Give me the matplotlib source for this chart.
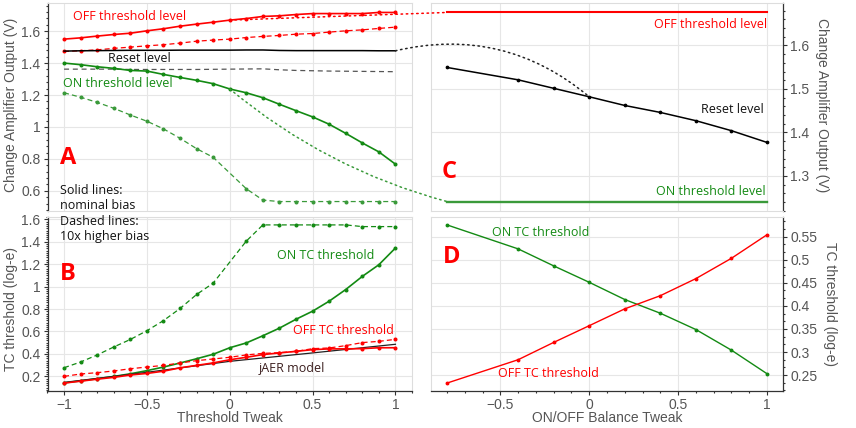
import matplotlib
matplotlib.use('Agg')
import matplotlib.pyplot as plt
from matplotlib.ticker import MultipleLocator, AutoMinorLocator, FuncFormatter
from matplotlib.patches import ConnectionPatch

plt.rcParams['font.family'] = ['Liberation Sans', 'DejaVu Sans']

# ---------------- data ----------------
tweak = [-1.0, -0.9, -0.8, -0.7, -0.6, -0.5, -0.4, -0.3, -0.2, -0.1, 0.0,
         0.1, 0.2, 0.3, 0.4, 0.5, 0.6, 0.7, 0.8, 0.9, 1.0]
tweak_hi_on = [-1.0, -0.9, -0.8, -0.7, -0.6, -0.5, -0.4, -0.3, -0.2, -0.1,
               0.1, 0.2, 0.3, 0.4, 0.5, 0.6, 0.7, 0.8, 0.9, 1.0]

# Panel A: change amplifier levels vs threshold tweak
off_nom = [1.550, 1.558, 1.569, 1.579, 1.587, 1.602, 1.615, 1.631, 1.644, 1.656, 1.669,
           1.679, 1.692, 1.696, 1.704, 1.710, 1.710, 1.710, 1.710, 1.717, 1.717]
off_hi = [1.473, 1.477, 1.483, 1.492, 1.500, 1.508, 1.515, 1.525, 1.537, 1.544, 1.550,
          1.560, 1.567, 1.573, 1.581, 1.585, 1.594, 1.602, 1.608, 1.617, 1.625]
reset_nom = [1.475, 1.477, 1.478, 1.479, 1.480, 1.480, 1.480, 1.481, 1.481, 1.481, 1.481,
             1.482, 1.482, 1.479, 1.478, 1.478, 1.478, 1.478, 1.478, 1.477, 1.477]
reset_hi = [1.362, 1.362, 1.362, 1.362, 1.360, 1.360, 1.360, 1.360, 1.360, 1.361, 1.362,
            1.363, 1.364, 1.358, 1.354, 1.352, 1.350, 1.349, 1.348, 1.347, 1.346]
on_nom = [1.400, 1.390, 1.377, 1.367, 1.354, 1.350, 1.329, 1.310, 1.292, 1.271, 1.238,
          1.214, 1.183, 1.142, 1.102, 1.063, 1.017, 0.960, 0.900, 0.844, 0.767]
on_hi = [1.214, 1.186, 1.154, 1.117, 1.075, 1.036, 0.988, 0.929, 0.864, 0.810,
         0.613, 0.542, 0.533, 0.533, 0.533, 0.533, 0.533, 0.533, 0.533, 0.533]

# Panel B: temporal contrast thresholds vs threshold tweak
on_tc_nom = [0.142, 0.160, 0.179, 0.199, 0.223, 0.251, 0.283, 0.319, 0.357, 0.397, 0.455,
             0.498, 0.562, 0.630, 0.709, 0.781, 0.870, 0.974, 1.091, 1.195, 1.344]
on_tc_hi = [0.277, 0.328, 0.391, 0.462, 0.529, 0.607, 0.697, 0.805, 0.930, 1.031,
            1.406, 1.550, 1.550, 1.550, 1.550, 1.550, 1.550, 1.535, 1.535, 1.535]
off_tc_nom = [0.140, 0.157, 0.175, 0.191, 0.212, 0.226, 0.246, 0.276, 0.298, 0.320, 0.348,
              0.370, 0.394, 0.409, 0.423, 0.438, 0.445, 0.445, 0.447, 0.455, 0.455]
off_tc_hi = [0.200, 0.221, 0.233, 0.248, 0.268, 0.283, 0.298, 0.319, 0.340, 0.355, 0.370,
             0.391, 0.405, 0.411, 0.423, 0.447, 0.453, 0.474, 0.501, 0.512, 0.530]
jaer_x = [-1.0, -0.5, 0.0, 0.5, 1.0]
jaer_model = [0.146, 0.236, 0.334, 0.409, 0.486]

# Panels C/D: vs ON/OFF balance tweak
balance = [-0.8, -0.4, -0.2, 0.0, 0.2, 0.4, 0.6, 0.8, 1.0]
reset_bal = [1.5495, 1.521, 1.5015, 1.482, 1.462, 1.446, 1.427, 1.404, 1.377]
off_level_bal = [1.676, 1.676, 1.676, 1.676, 1.676, 1.676, 1.676, 1.676, 1.676]
on_level_bal = [1.241, 1.241, 1.241, 1.241, 1.241, 1.241, 1.241, 1.241, 1.241]
on_tc_bal = [0.5753, 0.5234, 0.4866, 0.451, 0.4137, 0.384, 0.3487, 0.304, 0.253]
off_tc_bal = [0.2327, 0.2833, 0.3208, 0.357, 0.3935, 0.422, 0.459, 0.503, 0.554]

# ---------------- figure ----------------
W, H = 856, 428
fig = plt.figure(figsize=(W / 100, H / 100), dpi=100)


def rect(l, r, t, b):
    return [l / W, 1 - b / H, (r - l) / W, (b - t) / H]


axA = fig.add_axes(rect(47.5, 412, 3, 211))
axB = fig.add_axes(rect(47.5, 412, 217, 391))
axC = fig.add_axes(rect(431, 783, 3, 211))
axD = fig.add_axes(rect(431, 783, 217, 391))

RED = '#ff0000'
GREEN = '#138a13'
LGREEN = '#3a9a3a'
GRID = '#e6e6e6'
DARK = '#333333'
LABEL = '#555555'
ANN_FONT = ['Open Sans', 'DejaVu Sans']

fmt = FuncFormatter(lambda v, p: f'{round(v, 6) + 0.0:g}'.replace('-', '\u2212'))

solid = dict(lw=1.2, marker='o', ms=1.9)
dashed = dict(lw=0.9, marker='o', ms=1.9, linestyle=(0, (4, 2.5)))

# Panel A
axA.plot(tweak, off_nom, color=RED, **solid)
axA.plot(tweak, off_hi, color=RED, **dashed)
axA.plot(tweak, reset_nom, color='black', lw=1.1)
axA.plot(tweak, reset_hi, color='#555555', lw=0.9, linestyle=(0, (4, 3)))
axA.plot(tweak, on_nom, color=GREEN, **solid)
axA.plot(tweak_hi_on, on_hi, color=LGREEN, **dashed)

# Panel B
axB.plot(tweak_hi_on, on_tc_hi, color=GREEN, **dashed)
axB.plot(tweak, on_tc_nom, color=GREEN, **solid)
axB.plot(tweak, off_tc_hi, color=RED, **dashed)
axB.plot(jaer_x, jaer_model, color='#222222', lw=0.9)
axB.plot(tweak, off_tc_nom, color=RED, **solid)

# Panel C
axC.plot(balance, off_level_bal, color=RED, lw=1.5)
axC.plot(balance, on_level_bal, color=LGREEN, lw=1.7)
axC.plot(balance, reset_bal, color='black', lw=1.1, marker='o', ms=1.7)

# Panel D
axD.plot(balance, on_tc_bal, color=GREEN, lw=1.0, marker='o', ms=1.8)
axD.plot(balance, off_tc_bal, color=RED, lw=1.0, marker='o', ms=1.8)


def style(ax, dark_sides, ymaj, yminor_n, show_x):
    ax.set_facecolor('white')
    for side, sp in ax.spines.items():
        if side in dark_sides:
            sp.set_color(DARK)
            sp.set_linewidth(0.9)
        else:
            sp.set_color('#dddddd')
            sp.set_linewidth(0.8)
    ax.grid(True, color=GRID, lw=0.8)
    ax.set_axisbelow(True)
    ax.xaxis.set_major_locator(MultipleLocator(0.5))
    ax.xaxis.set_minor_locator(AutoMinorLocator(5))
    ax.yaxis.set_major_locator(MultipleLocator(ymaj))
    ax.yaxis.set_minor_locator(AutoMinorLocator(yminor_n))
    ax.xaxis.set_major_formatter(fmt)
    ax.yaxis.set_major_formatter(fmt)
    ax.tick_params(which='both', direction='out', color=DARK, width=0.8,
                   labelcolor=LABEL, labelsize=10, pad=2.5)
    ax.tick_params(which='major', length=2.6)
    ax.tick_params(which='minor', length=1.7)
    if not show_x:
        ax.tick_params(axis='x', which='both', bottom=False, labelbottom=False)
    if 'right' in dark_sides:
        ax.yaxis.tick_right()
        ax.yaxis.set_label_position('right')


style(axA, ['left'], 0.2, 5, False)
style(axB, ['left', 'bottom'], 0.2, 10, True)
style(axC, ['right'], 0.1, 5, False)
style(axD, ['right', 'bottom'], 0.05, 3, True)

axA.set_xlim(-1.1, 1.1)
axB.set_xlim(-1.1, 1.1)
axC.set_xlim(-0.89, 1.09)
axD.set_xlim(-0.89, 1.09)

lab = dict(fontsize=10, color=LABEL, va='center', ha='center')
axA.set_ylabel('Change Amplifier Output (V)', **lab)
axB.set_ylabel('TC threshold (log-e)', **lab)
axC.set_ylabel('Change Amplifier Output (V)', rotation=270, **lab)
axD.set_ylabel('TC threshold (log-e)', rotation=270, **lab)
axB.set_xlabel('Threshold Tweak', **lab)
axD.set_xlabel('ON/OFF Balance Tweak', **lab)
axA.yaxis.set_label_coords(-0.100, 0.51)
axB.yaxis.set_label_coords(-0.100, 0.47)
axC.yaxis.set_label_coords(1.110, 0.51)
axD.yaxis.set_label_coords(1.133, 0.50)
axB.xaxis.set_label_coords(0.5, -0.158)
axD.xaxis.set_label_coords(0.5, -0.158)
for a in (axA, axB, axC, axD):
    a.yaxis.label.set_va('center')
    a.yaxis.label.set_ha('center')
    a.xaxis.label.set_va('center')


# annotations
def ann(ax, x, y, s, color, ha='center', size=9):
    ax.text(x, y, s, transform=ax.transAxes, color=color, ha=ha, va='center',
            fontsize=size, family=ANN_FONT)


def letter(ax, x, y, s):
    ax.text(x, y, s, transform=ax.transAxes, color=RED, ha='center', va='center',
            fontsize=17, fontweight='bold', family=ANN_FONT)


ann(axA, 0.2255, 0.9375, 'OFF threshold level', RED)
ann(axA, 0.251, 0.732, 'Reset level', '#111111')
ann(axA, 0.193, 0.614, 'ON threshold level', GREEN)
letter(axA, 0.057, 0.253, 'A')

ann(axB, 0.763, 0.778, 'ON TC threshold', GREEN)
ann(axB, 0.813, 0.345, 'OFF TC threshold', RED)
ann(axB, 0.669, 0.130, 'jAER model', '#3b1e1e')
letter(axB, 0.055, 0.672, 'B')

ann(axC, 0.9537, 0.899, 'OFF threshold level', RED, ha='right')
ann(axC, 0.946, 0.490, 'Reset level', '#111111', ha='right')
ann(axC, 0.951, 0.096, 'ON threshold level', GREEN, ha='right')
letter(axC, 0.051, 0.189, 'C')

ann(axD, 0.311, 0.912, 'ON TC threshold', GREEN)
ann(axD, 0.335, 0.102, 'OFF TC threshold', RED)
letter(axD, 0.059, 0.768, 'D')

fig.text(60 / W, 1 - 197.8 / H, 'Solid lines:\nnominal bias', ha='left', va='center',
         fontsize=9, color='#111111', family=ANN_FONT, linespacing=1.25)
fig.text(60 / W, 1 - 229.0 / H, 'Dashed lines:\n10x higher bias', ha='left', va='center',
         fontsize=9, color='#111111', family=ANN_FONT, linespacing=1.25)

# dotted connectors between panels A and C
i0 = tweak.index(0.0)
b0 = balance.index(0.0)
dots = (0, (1, 2.4))
connectors = [
    ((tweak[i0], off_nom[i0]), (balance[0], off_level_bal[0]), RED, 'arc3,rad=0'),
    ((tweak[-1], reset_nom[-1]), (balance[b0], reset_bal[b0]), '#222222', 'arc3,rad=-0.25'),
    ((tweak[i0], on_nom[i0]), (balance[0], on_level_bal[0]), LGREEN, 'arc3,rad=0.11'),
]
for xyA, xyB, col, cs in connectors:
    con = ConnectionPatch(xyA=xyA, coordsA=axA.transData, xyB=xyB, coordsB=axC.transData,
                          color=col, lw=1.1, linestyle=dots, connectionstyle=cs, zorder=5)
    fig.add_artist(con)

fig.savefig('out.png', dpi=100)
